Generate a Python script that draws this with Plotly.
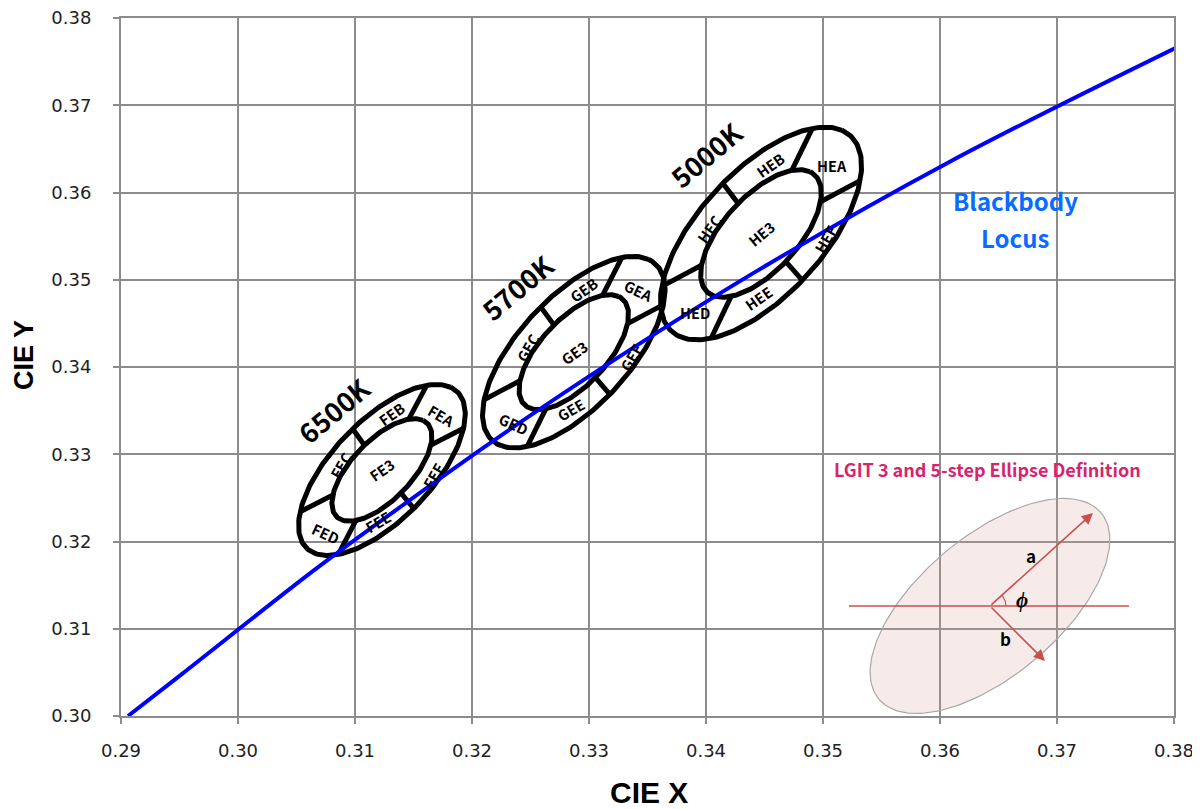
import numpy as np
import plotly.graph_objects as go

# ---------------- data ----------------
# Blackbody (Planckian) locus, CIE x / y
locus_x = [0.2906, 0.2952, 0.3064, 0.3135, 0.3221, 0.3325, 0.3451, 0.3608, 0.3805]
locus_y = [0.3000, 0.3048, 0.3166, 0.3236, 0.3318, 0.3411, 0.3516, 0.3635, 0.3768]

# LGIT ellipse bins (1-step MacAdam parameters)
bin_codes = ["FE", "GE", "HE"]
cct_labels = ["6500K", "5700K", "5000K"]
center_x = [0.3123, 0.3287, 0.3447]
center_y = [0.3282, 0.3417, 0.3553]
a_1step = [0.00223, 0.00248, 0.00274]
b_1step = [0.00095, 0.00105, 0.00118]
phi_deg = [58.23, 59.09, 59.62]
inner_step = 3
outer_step = 5

# ring segments and their dividers (parametric angle, deg)
segment_letters = ["A", "B", "C", "D", "E", "F"]
divider_t = [23, 76, 134, 204, 258, 314]

x_ticks = [0.29, 0.30, 0.31, 0.32, 0.33, 0.34, 0.35, 0.36, 0.37, 0.38]
x_tick_labels = ["0.29", "0.30", "0.31", "0.32", "0.33", "0.34", "0.35", "0.36", "0.37", "0.38"]
y_ticks = [0.30, 0.31, 0.32, 0.33, 0.34, 0.35, 0.36, 0.37, 0.38]
y_tick_labels = ["0.30", "0.31", "0.32", "0.33", "0.34", "0.35", "0.36", "0.37", "0.38"]

# ---------------- layout / style constants ----------------
# the page body adds an 8px offset, so the figure is 8px smaller on each side
W, H = 1192, 801
ML, MR, MT, MB = 113, 26, 10, 93
XR = [0.29, 0.38]
YR = [0.30, 0.38]
PW, PH = W - ML - MR, H - MT - MB
KX = PW / (XR[1] - XR[0])   # px per x unit
KY = PH / (YR[1] - YR[0])   # px per y unit

GRID = "#8c8c8c"
FONT = "Noto Sans CJK KR"

# label placement within the ring: (parametric angle, radius in steps)
label_pos = {"A": (343, 3.76), "B": (46.8, 3.88), "C": (100.3, 3.55),
             "D": (177, 3.9), "E": (232.2, 3.83), "F": (280.6, 4.34)}
label_angles = [
    {"A": 30, "B": -35, "C": -60, "D": 25, "E": -30, "F": -60, "3": -35},
    {"A": 25, "B": -35, "C": -60, "D": 25, "E": -30, "F": -60, "3": -35},
    {"A": 0, "B": -35, "C": -55, "D": 0, "E": -35, "F": -60, "3": -40},
]
cct_label_offset = [(-0.00418, 0.00687), (-0.00477, 0.00747), (-0.0047, 0.0090)]


def ell_point(cx, cy, a, b, phi, t):
    c, s = np.cos(np.radians(phi)), np.sin(np.radians(phi))
    u, v = a * np.cos(t), b * np.sin(t)
    return cx + u * c - v * s, cy + u * s + v * c


fig = go.Figure()
annotations = []

# ellipses
for i in range(len(bin_codes)):
    cx, cy, a1, b1, ph = center_x[i], center_y[i], a_1step[i], b_1step[i], phi_deg[i]
    tt = np.linspace(0, 2 * np.pi, 241)
    for st in (outer_step, inner_step):
        ex, ey = ell_point(cx, cy, a1 * st, b1 * st, ph, tt)
        fig.add_trace(go.Scatter(x=ex, y=ey, mode="lines",
                                 line=dict(color="black", width=5),
                                 hoverinfo="skip", showlegend=False))
    dx, dy = [], []
    for td in divider_t:
        t = np.radians(td)
        x0, y0 = ell_point(cx, cy, a1 * inner_step, b1 * inner_step, ph, t)
        x1, y1 = ell_point(cx, cy, a1 * outer_step, b1 * outer_step, ph, t)
        dx += [x0, x1, None]
        dy += [y0, y1, None]
    fig.add_trace(go.Scatter(x=dx, y=dy, mode="lines",
                             line=dict(color="black", width=5),
                             hoverinfo="skip", showlegend=False))
    # segment labels
    for L in segment_letters:
        td, r = label_pos[L]
        lx, ly = ell_point(cx, cy, a1 * r, b1 * r, ph, np.radians(td))
        annotations.append(dict(x=lx, y=ly, xref="x", yref="y", showarrow=False,
                                text=bin_codes[i] + L, textangle=label_angles[i][L],
                                font=dict(family=FONT, size=14.5, color="black", weight="bold")))
    annotations.append(dict(x=cx, y=cy, xref="x", yref="y", showarrow=False,
                            text=bin_codes[i] + "3", textangle=label_angles[i]["3"],
                            font=dict(family=FONT, size=14.5, color="black", weight="bold")))
    ox, oy = cct_label_offset[i]
    annotations.append(dict(x=cx + ox, y=cy + oy, xref="x", yref="y", showarrow=False,
                            text=cct_labels[i], textangle=-40,
                            font=dict(family=FONT, size=27, color="black", weight="bold")))

# blackbody locus
fig.add_trace(go.Scatter(x=locus_x, y=locus_y, mode="lines",
                         line=dict(color="#0000FF", width=4, shape="spline", smoothing=1.0),
                         hoverinfo="skip", showlegend=False, cliponaxis=True))

for txt, ty in [("Blackbody", 0.35914), ("Locus", 0.35490)]:
    annotations.append(dict(x=0.36641, y=ty, xref="x", yref="y", showarrow=False,
                            text=txt, xanchor="center", yanchor="middle",
                            font=dict(family=FONT, size=24, color="#0A6CFF", weight="bold")))

# ---------------- ellipse definition diagram ----------------
dcx, dcy = 0.36427, 0.31261
A_px, B_px, alpha = 145, 70, 40
tt = np.linspace(0, 2 * np.pi, 181)
ca, sa = np.cos(np.radians(alpha)), np.sin(np.radians(alpha))
px = A_px * np.cos(tt) * ca - B_px * np.sin(tt) * sa
py = A_px * np.cos(tt) * sa + B_px * np.sin(tt) * ca
fig.add_trace(go.Scatter(x=dcx + px / KX, y=dcy + py / KY, mode="lines", fill="toself",
                         fillcolor="rgba(215,165,155,0.22)",
                         line=dict(color="#a8a8a8", width=1.2),
                         hoverinfo="skip", showlegend=False))
RED = "#C8504D"
fig.add_trace(go.Scatter(x=[dcx - 141 / KX, dcx + 139 / KX], y=[dcy, dcy], mode="lines",
                         line=dict(color=RED, width=1.5), hoverinfo="skip", showlegend=False))
arc = np.radians(np.linspace(0, 42, 20))
fig.add_trace(go.Scatter(x=dcx + 16 * np.cos(arc) / KX, y=dcy + 16 * np.sin(arc) / KY,
                         mode="lines", line=dict(color=RED, width=1.2),
                         hoverinfo="skip", showlegend=False))
for (tx, ty) in [(103, 93), (55, -55)]:
    annotations.append(dict(x=dcx + tx / KX, y=dcy + ty / KY, ax=dcx, ay=dcy,
                            xref="x", yref="y", axref="x", ayref="y", text="",
                            showarrow=True, arrowhead=2, arrowsize=1.4, arrowwidth=1.6,
                            arrowcolor=RED))
for (txt, ox, oy, sz) in [("a", 41, 50, 17), ("b", 16, -33, 17), ("<i>ϕ</i>", 32, 8, 21)]:
    annotations.append(dict(x=dcx + ox / KX, y=dcy + oy / KY, xref="x", yref="y",
                            showarrow=False, text=txt,
                            font=dict(family=FONT, size=sz, color="black", weight="bold")))
annotations.append(dict(x=0.36410, y=0.32831, xref="x", yref="y", showarrow=False,
                        text="LGIT 3 and 5-step Ellipse Definition",
                        font=dict(family=FONT, size=18, color="#D6246E", weight="bold")))

# axis titles (positions relative to the plot area)
annotations.append(dict(x=(24 - 121) / PW, y=(716 - 355) / PH, xref="paper", yref="paper",
                        xanchor="center", yanchor="middle",
                        showarrow=False, text="CIE Y", textangle=-90,
                        font=dict(family="Liberation Sans", size=27, color="black", weight="bold")))
annotations.append(dict(x=(648.5 - 121) / PW, y=(716 - 793) / PH, xref="paper", yref="paper",
                        xanchor="center", yanchor="middle",
                        showarrow=False, text="CIE X",
                        font=dict(family="Liberation Sans", size=30, color="black", weight="bold")))

axis_common = dict(showgrid=True, gridcolor=GRID, gridwidth=2, showline=True, mirror=True,
                   linecolor=GRID, linewidth=2, ticks="outside", ticklen=6, tickwidth=2,
                   tickcolor=GRID, zeroline=False, automargin=False,
                   ticklabeloverflow="allow",
                   tickfont=dict(family="DejaVu Sans", size=18, color="#222222"))

fig.update_layout(
    width=W, height=H,
    margin=dict(l=ML, r=MR, t=MT, b=MB, autoexpand=False),
    paper_bgcolor="white", plot_bgcolor="white",
    showlegend=False, hovermode=False,
    xaxis=dict(range=XR, tickvals=x_ticks, ticktext=x_tick_labels,
               ticklabelstandoff=11, **axis_common),
    yaxis=dict(range=YR, tickvals=y_ticks, ticktext=y_tick_labels,
               ticklabelstandoff=18, **axis_common),
    annotations=annotations,
)

fig.write_html("out.html")
